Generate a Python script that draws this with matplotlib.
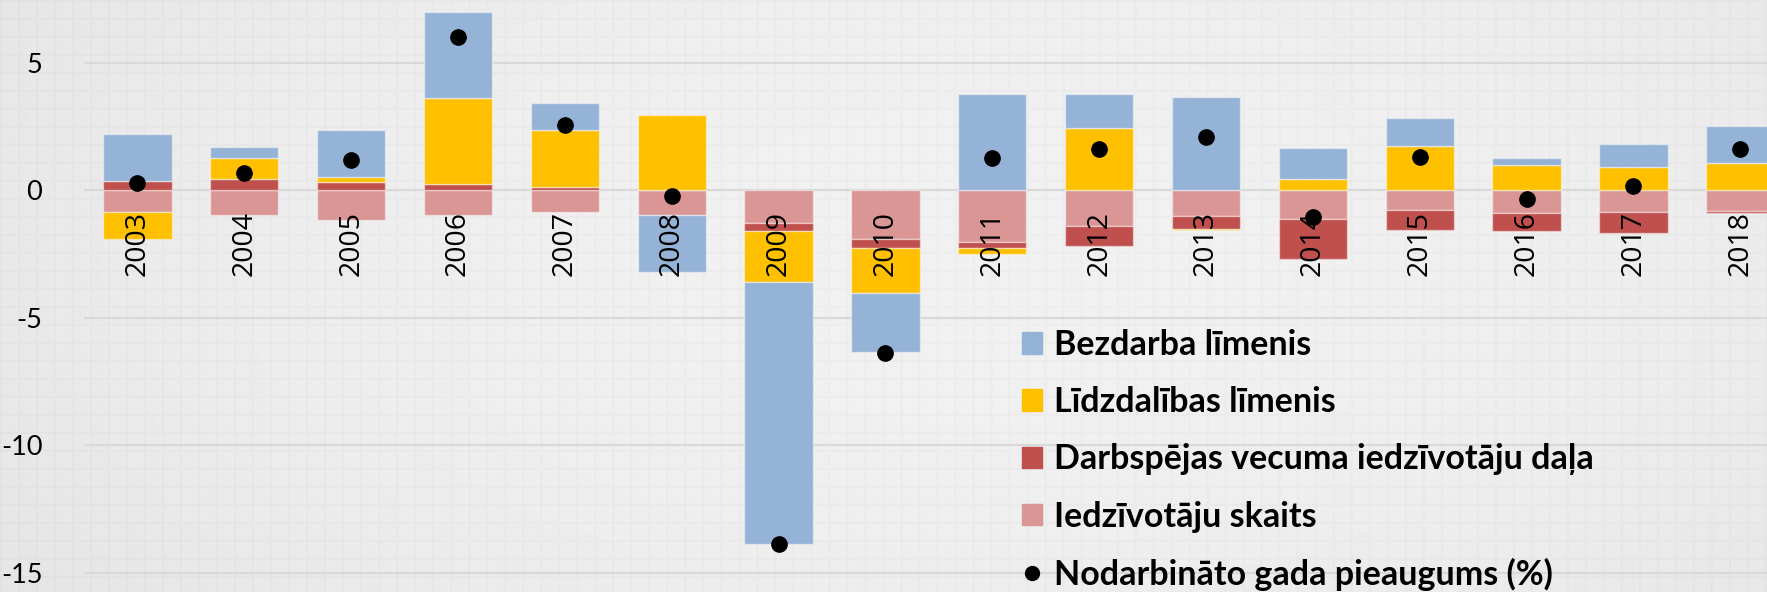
import numpy as np
import matplotlib
matplotlib.use("Agg")
from matplotlib import pyplot as plt
from matplotlib.lines import Line2D
from matplotlib.patches import Patch

years = [str(y) for y in range(2003, 2019)]

# contributions to employment growth, percentage points
iedzivotaju_skaits = [-0.85, -0.98, -1.16, -0.98, -0.85, -0.95, -1.28, -1.92,
                      -2.04, -1.41, -1.02, -1.14, -0.77, -0.89, -0.86, -0.82]
darbspejas_dala = [0.35, 0.43, 0.33, 0.25, 0.12, 0.00, -0.31, -0.36,
                   -0.24, -0.77, -0.48, -1.54, -0.77, -0.69, -0.81, -0.07]
lidzdalibas_limenis = [-1.07, 0.85, 0.18, 3.37, 2.24, 2.96, -2.01, -1.75,
                       -0.23, 2.43, -0.07, 0.46, 1.74, 0.98, 0.91, 1.08]
bezdarba_limenis = [1.87, 0.40, 1.87, 3.38, 1.05, -2.25, -10.28, -2.33,
                    3.76, 1.34, 3.64, 1.18, 1.08, 0.27, 0.92, 1.43]
nodarbinato_pieaugums = [0.30, 0.69, 1.20, 6.00, 2.56, -0.23, -13.87, -6.37,
                         1.27, 1.62, 2.08, -1.04, 1.29, -0.33, 0.16, 1.62]

labels = ["Bezdarba līmenis", "Līdzdalības līmenis",
          "Darbspējas vecuma iedzīvotāju daļa", "Iedzīvotāju skaits",
          "Nodarbināto gada pieaugums (%)"]
yticks = [5, 0, -5, -10, -15]

c_blue = "#95B3D7"
c_yellow = "#FFC000"
c_red = "#C0504D"
c_pink = "#DA9694"

W, H = 1767, 592
fig = plt.figure(figsize=(W / 100, H / 100), dpi=100)

# slide background: soft vignette with a faint square grid
bg = fig.add_axes([0, 0, 1, 1], zorder=0)
yy, xx = np.mgrid[0:H, 0:W]
r2 = ((xx - W * 0.55) / (W * 0.6)) ** 2 + ((yy - H * 0.45) / (H * 0.9)) ** 2
img = 0.945 - 0.04 * r2
cell = 18
lines = ((xx % cell) < 2) | ((yy % cell) < 2)
img = img - 0.018 * lines
bg.imshow(np.clip(img, 0, 1), cmap="gray", vmin=0, vmax=1,
          aspect="auto", interpolation="bilinear")
bg.axis("off")

ax_left = 84 / W
ax = fig.add_axes([ax_left, 0, 1 - ax_left, 1], zorder=1)
ax.patch.set_alpha(0)

x = np.arange(len(years))
pos = np.zeros(len(years))
neg = np.zeros(len(years))
series = [(iedzivotaju_skaits, c_pink), (darbspejas_dala, c_red),
          (lidzdalibas_limenis, c_yellow), (bezdarba_limenis, c_blue)]
for vals, col in series:
    v = np.array(vals)
    bottom = np.where(v >= 0, pos, neg)
    ax.bar(x, v, 0.64, bottom=bottom, color=col,
           edgecolor=(1, 1, 1, 0.45), linewidth=1.0, zorder=3)
    pos = pos + np.where(v >= 0, v, 0)
    neg = neg + np.where(v < 0, v, 0)

ax.plot(x, nodarbinato_pieaugums, "o", color="black", markersize=11,
        linestyle="none", zorder=4)

ax.set_xlim(-0.5, 15.25)
ax.set_ylim(-15.75, 7.46)
ax.set_yticks(yticks)
ax.set_yticklabels([str(t) for t in yticks], family=["Lato", "DejaVu Sans"],
                   fontsize=19.5)
ax.tick_params(axis="y", length=0, pad=30)
ax.set_xticks([])
ax.grid(axis="y", color="#d9d9d9", linewidth=1.6, zorder=1)
for s in ax.spines.values():
    s.set_visible(False)

for i, yr in enumerate(years):
    ax.text(i, -0.82, yr, rotation=90, ha="center", va="top",
            fontsize=20.5, family=["Open Sans", "DejaVu Sans"], zorder=5)

handles = [Patch(color=c_blue), Patch(color=c_yellow), Patch(color=c_red),
           Patch(color=c_pink),
           Line2D([], [], marker="o", color="black", linestyle="none",
                  markersize=10)]
leg = fig.legend(handles, labels, loc="upper left",
                 bbox_to_anchor=(1022 / W, 1 - 329 / H), frameon=False,
                 prop={"family": ["Lato", "DejaVu Sans"], "weight": "bold",
                       "size": 24.5},
                 handlelength=0.6, handleheight=0.6, handletextpad=0.35,
                 labelspacing=0.74, borderpad=0, borderaxespad=0)
leg.set_zorder(6)

fig.savefig("out.png", dpi=100)
